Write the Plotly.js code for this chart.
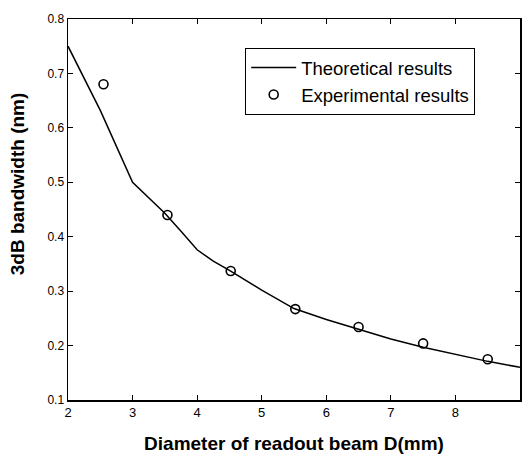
<!DOCTYPE html>
<html>
<head>
<meta charset="utf-8">
<script src="https://cdn.plot.ly/plotly-3.0.1.min.js"></script>
<style>html,body{margin:0;padding:0;background:#fff;}#chart{width:522px;height:460px;}</style>
</head>
<body>
<div id="chart"></div>
<script>
var theoX = [2, 2.5, 3, 3.5, 3.75, 4, 4.25, 4.5, 5, 5.5, 6, 6.5, 7, 7.5, 8, 8.5, 9];
var theoY = [0.75, 0.632, 0.50, 0.443, 0.41, 0.376, 0.355, 0.338, 0.302, 0.268, 0.248, 0.23, 0.212, 0.197, 0.184, 0.171, 0.16];
var expX = [2.55, 3.54, 4.52, 5.52, 6.5, 7.5, 8.5];
var expY = [0.68, 0.44, 0.337, 0.267, 0.234, 0.204, 0.175];
var xTicks = [2, 3, 4, 5, 6, 7, 8, 9];
var yTicks = [0.1, 0.2, 0.3, 0.4, 0.5, 0.6, 0.7, 0.8];

var FONT = '"Liberation Sans", Arial, sans-serif';

var traces = [
  {x: theoX, y: theoY, mode: 'lines', name: 'Theoretical results',
   line: {color: '#000', width: 1.5}},
  {x: expX, y: expY, mode: 'markers', name: 'Experimental results',
   marker: {symbol: 'circle-open', size: 9, color: '#000', line: {width: 1.6, color: '#000'}}}
];

var axisCommon = {
  showline: true, linecolor: '#000', linewidth: 1.5, mirror: 'ticks',
  ticks: 'inside', ticklen: 5, tickwidth: 1, tickcolor: '#000',
  showgrid: false, zeroline: false
};

var layout = {
  width: 522, height: 460,
  margin: {l: 68, r: 2, t: 19, b: 60},
  paper_bgcolor: '#fff', plot_bgcolor: '#fff',
  font: {family: FONT, color: '#000'},
  showlegend: true,
  legend: {
    x: 0.392, y: 0.924, xanchor: 'left', yanchor: 'top',
    bordercolor: '#000', borderwidth: 1, bgcolor: '#fff',
    font: {family: FONT, size: 18.5, color: '#000'},
    itemwidth: 45, tracegroupgap: 0
  },
  xaxis: Object.assign({}, axisCommon, {
    range: [2, 9], tickvals: xTicks, ticktext: xTicks.map(String),
    tickfont: {family: FONT, size: 13, color: '#000'},
    title: {text: '<b>Diameter of readout beam D(mm)</b>', font: {family: FONT, size: 19, color: '#000'}, standoff: 17}
  }),
  yaxis: Object.assign({}, axisCommon, {
    range: [0.1, 0.8], tickvals: yTicks, ticktext: yTicks.map(function(v){return v.toFixed(1);}),
    tickfont: {family: FONT, size: 12, color: '#000'}
  }),
  annotations: [{
    text: '<b>3dB bandwidth (nm)</b>', xref: 'paper', yref: 'paper',
    x: -0.11, y: 0.567, xanchor: 'center', yanchor: 'middle', textangle: -90,
    showarrow: false, font: {family: FONT, size: 19, color: '#000'}
  }]
};

Plotly.newPlot('chart', traces, layout, {displayModeBar: false, staticPlot: true});
</script>
</body>
</html>
